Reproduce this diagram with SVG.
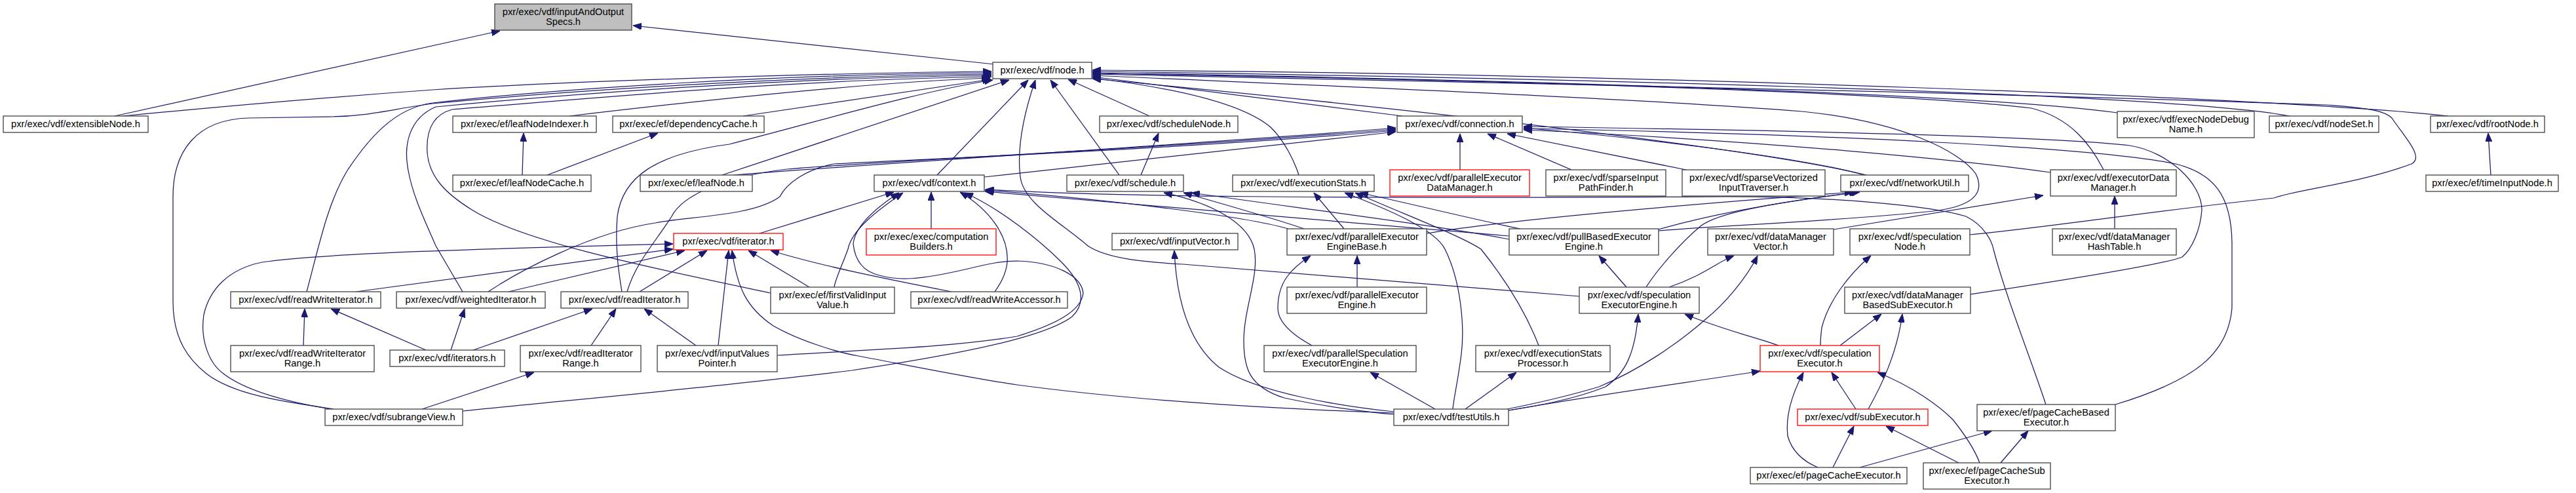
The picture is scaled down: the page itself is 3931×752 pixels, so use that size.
<svg xmlns="http://www.w3.org/2000/svg" width="3931" height="752" viewBox="0 0 3931 752">
<style>
.n rect{fill:#fff;stroke:#404040;stroke-width:1.3}
.n.red rect{stroke:#ff0000}
.n.root rect{fill:#bfbfbf}
.n text{font-family:"Liberation Sans",Arial,sans-serif;font-size:14.7px;text-anchor:middle;fill:#000}
#edges path{fill:none;stroke:#191970;stroke-width:1.25;marker-start:url(#a)}
</style>
<defs>
<marker id="a" viewBox="0 0 13 10" refX="13" refY="5" markerWidth="13" markerHeight="10" markerUnits="userSpaceOnUse" orient="auto-start-reverse">
<path d="M0,0 L13,5 L0,10 z" fill="#191970" stroke="#191970" stroke-width="1"/>
</marker>
</defs>
<rect width="3931" height="752" fill="#fff"/>
<g id="edges">
<path d="M763,47 L175,177"/>
<path d="M966,39 L1517,98"/>
<path d="M1513,109 C1300,111 900,122 660,137 C450,152 280,168 187,177"/>
<path d="M1513,111 C1200,113 850,135 660,157 C600,165 560,215 530,260 C500,310 488,370 468,445"/>
<path d="M1513,113 C1200,116 850,140 660,158 C600,166 560,178 500,178 L380,180 C300,182 264,230 264,300 L264,460 C264,520 290,550 315,570 C360,605 450,615 509,624"/>
<path d="M1513,115 C1200,118 850,145 665,163 C625,180 615,220 623,260 C630,300 650,340 665,375 L706,445"/>
<path d="M1513,117 C1200,122 900,150 690,167 C660,175 650,200 652,233 C655,270 680,295 720,320 C800,370 1000,410 1176,447"/>
<path d="M1511,119 Q1300,126 869,177"/>
<path d="M1512,121 L1134,177"/>
<path d="M1515,122 C1400,140 1250,185 1113,220 C1000,235 950,270 942,330 C938,380 945,420 949,445"/>
<path d="M1540,122 L1102,267"/>
<path d="M1569,122 L1430,267"/>
<path d="M1603,122 L1708,267"/>
<path d="M1630,121 L1754,177"/>
<path d="M1667,117 L2140,177"/>
<path d="M1580,122 C1560,180 1552,230 1557,270 C1562,310 1620,340 1660,375 C1690,395 1750,400 1805,403 L2410,452"/>
<path d="M1667,119 C1800,135 1900,160 1940,195 C1960,215 1975,245 1982,267"/>
<path d="M1667,115 C2000,130 2500,150 2750,170 C2900,185 2990,230 3015,265 C3030,295 3010,315 2950,322 C2800,338 2600,345 2531,352"/>
<path d="M1667,113 C2200,125 3000,140 3550,160 C3620,165 3640,170 3650,180 C3670,210 3700,240 3680,250 C3600,280 3500,290 3470,302 C3300,320 3100,350 3006,358"/>
<path d="M1667,111 C2200,120 3000,140 3231,172"/>
<path d="M1667,109 C2300,118 3300,140 3494,177"/>
<path d="M1667,107 C2500,112 3500,150 3736,177"/>
<path d="M1667,112 C2200,120 2900,140 3100,165 C3160,180 3190,220 3210,259"/>
<path d="M1667,120 C2200,170 2700,230 2848,267"/>
<path d="M2130,195 C1900,215 1400,245 1119,267"/>
<path d="M2130,197 C1800,225 1350,245 1201,258 C1100,270 1040,300 1025,330 C1000,370 970,400 957,445"/>
<path d="M2130,199 C1800,228 1350,245 1273,250 C1230,258 1200,280 1190,300 C1150,330 1050,330 1000,340 C900,355 790,415 745,445"/>
<path d="M2130,201 L1502,270"/>
<path d="M2228,204 L2228,259"/>
<path d="M2270,204 L2398,259"/>
<path d="M2300,204 L2573,259"/>
<path d="M2325,195 C2500,210 2750,240 2845,267"/>
<path d="M2325,198 C2700,215 3000,245 3129,263"/>
<path d="M2325,193 C2800,200 3150,210 3250,222 C3310,232 3360,280 3360,320 C3358,350 3345,380 3330,392 C3300,405 3100,435 3007,449"/>
<path d="M2325,196 C2800,205 3200,225 3320,250 C3380,265 3405,300 3406,370 L3406,470 C3400,540 3350,580 3228,617"/>
<path d="M1776,294 C1850,310 1905,340 1914,380 C1922,420 1898,470 1898,520 C1898,560 1905,590 1960,607 C2030,622 2100,630 2127,632"/>
<path d="M1806,294 C1880,315 1950,335 1990,349"/>
<path d="M1818,294 C2000,320 2200,345 2303,365"/>
<path d="M1364,293 L1159,356"/>
<path d="M1421,293 L1421,349"/>
<path d="M1465,293 C1510,320 1540,360 1537,400 C1535,420 1525,435 1518,445"/>
<path d="M1027,380 L543,445"/>
<path d="M1027,372 C800,378 500,385 400,400 C350,410 320,440 311,480 C305,520 320,555 341,570 C380,600 450,615 505,624"/>
<path d="M1045,382 L776,445"/>
<path d="M1079,382 L976,445"/>
<path d="M1112,382 L1096,527"/>
<path d="M1117,382 C1125,440 1140,470 1180,497 C1220,520 1280,538 1310,543 C1400,560 1500,580 1552,587 C1700,607 1900,622 2127,630"/>
<path d="M1142,382 L1235,438"/>
<path d="M1176,382 C1250,405 1350,425 1452,445"/>
<path d="M1372,294 C1335,318 1305,345 1302,372 C1305,400 1320,415 1342,420 C1370,428 1400,428 1477,410 C1510,402 1530,398 1552,398 C1610,400 1650,420 1653,447 C1650,475 1610,495 1552,513 C1450,530 1330,533 1186,542"/>
<path d="M1472,294 C1530,320 1590,370 1620,400 C1650,430 1660,460 1636,483 C1600,510 1500,535 1300,565 C1100,590 850,612 706,627"/>
<path d="M2052,294 C2120,320 2190,350 2205,380 C2230,430 2235,500 2230,540 C2225,580 2218,610 2217,624"/>
<path d="M2068,294 C2150,330 2230,360 2260,380 C2300,430 2330,480 2348,527"/>
<path d="M2005,294 L2051,349"/>
<path d="M2075,294 C2150,310 2250,335 2320,349"/>
<path d="M2000,390 C1970,410 1950,430 1950,470 C1950,495 1980,515 2002,527"/>
<path d="M2071,390 L2071,438"/>
<path d="M2440,390 L2482,438"/>
<path d="M2646,390 C2620,400 2600,420 2547,438"/>
<path d="M2682,390 C2665,425 2630,465 2605,485 C2560,525 2500,565 2440,590 C2380,608 2330,618 2300,624"/>
<path d="M2500,479 C2495,540 2480,570 2450,590 C2400,610 2340,620 2302,626"/>
<path d="M2571,479 C2620,500 2680,515 2714,527"/>
<path d="M2855,390 C2820,420 2790,460 2780,500 C2778,515 2778,522 2778,527"/>
<path d="M2871,479 L2808,527"/>
<path d="M2903,479 C2895,540 2870,590 2851,624"/>
<path d="M2686,566 C2600,580 2450,600 2302,626"/>
<path d="M2795,568 L2832,624"/>
<path d="M2752,568 C2730,610 2725,640 2728,665 C2735,690 2755,705 2774,713"/>
<path d="M2865,568 C2920,590 2960,620 2980,640 C3000,665 3015,690 3021,706"/>
<path d="M2829,650 L2797,713"/>
<path d="M2878,650 L2989,706"/>
<path d="M3040,657 L2838,713"/>
<path d="M3095,657 L3053,706"/>
<path d="M1504,289 C1700,300 2000,303 2600,300 C2800,298 2950,315 3000,330 C3030,345 3040,370 3042,380 C3060,450 3100,550 3122,617"/>
<path d="M2828,293 C2600,310 2300,335 2177,356"/>
<path d="M2838,293 C2700,310 2620,325 2595,345 C2565,370 2530,410 2512,438"/>
<path d="M3118,298 L2798,350"/>
<path d="M3227,299 L3227,349"/>
<path d="M3797,203 L3801,267"/>
<path d="M799,203 L797,267"/>
<path d="M1004,203 L835,267"/>
<path d="M1768,203 L1741,267"/>
<path d="M465,471 L463,527"/>
<path d="M505,471 L650,534"/>
<path d="M709,471 L688,534"/>
<path d="M904,471 L722,534"/>
<path d="M940,471 L902,527"/>
<path d="M983,471 L1062,527"/>
<path d="M815,568 L644,624"/>
<path d="M2091,568 L2190,624"/>
<path d="M2314,568 L2236,624"/>
<path d="M1792,382 C1795,450 1810,520 1860,560 C1920,600 2050,620 2127,628"/>
<path d="M1503,290 C1700,305 1900,330 1966,349"/>
<path d="M1503,292 C1800,318 2150,345 2303,360"/>
<path d="M1378,294 C1340,320 1300,350 1294,380 C1285,405 1275,425 1273,438"/>
<path d="M2835,293 C2700,310 2600,330 2531,350"/>
</g>
<g id="n1" class="n root"><rect x="755" y="6" width="209" height="40"/><text x="859.5" y="23">pxr/exec/vdf/inputAndOutput</text><text x="859.5" y="37.5">Specs.h</text></g>
<g id="n2" class="n"><rect x="5" y="177" width="221" height="25"/><text x="115.5" y="194">pxr/exec/vdf/extensibleNode.h</text></g>
<g id="n3" class="n"><rect x="1515" y="95" width="151" height="25"/><text x="1590.5" y="112">pxr/exec/vdf/node.h</text></g>
<g id="n4" class="n"><rect x="691" y="177" width="219" height="25"/><text x="800.5" y="194">pxr/exec/ef/leafNodeIndexer.h</text></g>
<g id="n5" class="n"><rect x="935" y="177" width="231" height="25"/><text x="1050.5" y="194">pxr/exec/ef/dependencyCache.h</text></g>
<g id="n6" class="n"><rect x="691" y="267" width="211" height="25"/><text x="796.5" y="284">pxr/exec/ef/leafNodeCache.h</text></g>
<g id="n7" class="n"><rect x="977" y="267" width="171" height="25"/><text x="1062.5" y="284">pxr/exec/ef/leafNode.h</text></g>
<g id="n8" class="n"><rect x="2132" y="177" width="191" height="25"/><text x="2227.5" y="194">pxr/exec/vdf/connection.h</text></g>
<g id="n9" class="n"><rect x="1678" y="177" width="211" height="25"/><text x="1783.5" y="194">pxr/exec/vdf/scheduleNode.h</text></g>
<g id="n10" class="n"><rect x="1334" y="267" width="168" height="25"/><text x="1418" y="284">pxr/exec/vdf/context.h</text></g>
<g id="n11" class="n"><rect x="1628" y="267" width="178" height="25"/><text x="1717" y="284">pxr/exec/vdf/schedule.h</text></g>
<g id="n12" class="n"><rect x="1881" y="267" width="216" height="25"/><text x="1989" y="284">pxr/exec/vdf/executionStats.h</text></g>
<g id="n13" class="n red"><rect x="2121" y="259" width="213" height="40"/><text x="2227.5" y="276">pxr/exec/vdf/parallelExecutor</text><text x="2227.5" y="290.5">DataManager.h</text></g>
<g id="n14" class="n"><rect x="2359" y="259" width="183" height="40"/><text x="2450.5" y="276">pxr/exec/vdf/sparseInput</text><text x="2450.5" y="290.5">PathFinder.h</text></g>
<g id="n15" class="n"><rect x="2567" y="259" width="218" height="40"/><text x="2676" y="276">pxr/exec/vdf/sparseVectorized</text><text x="2676" y="290.5">InputTraverser.h</text></g>
<g id="n16" class="n"><rect x="2809" y="267" width="195" height="25"/><text x="2906.5" y="284">pxr/exec/vdf/networkUtil.h</text></g>
<g id="n17" class="n"><rect x="3129" y="259" width="192" height="40"/><text x="3225" y="276">pxr/exec/vdf/executorData</text><text x="3225" y="290.5">Manager.h</text></g>
<g id="n18" class="n"><rect x="3231" y="170" width="209" height="40"/><text x="3335.5" y="187">pxr/exec/vdf/execNodeDebug</text><text x="3335.5" y="201.5">Name.h</text></g>
<g id="n19" class="n"><rect x="3463" y="177" width="167" height="25"/><text x="3546.5" y="194">pxr/exec/vdf/nodeSet.h</text></g>
<g id="n20" class="n"><rect x="3709" y="177" width="174" height="25"/><text x="3796" y="194">pxr/exec/vdf/rootNode.h</text></g>
<g id="n21" class="n"><rect x="3702" y="267" width="202" height="25"/><text x="3803" y="284">pxr/exec/ef/timeInputNode.h</text></g>
<g id="n22" class="n red"><rect x="1028" y="356" width="167" height="25"/><text x="1111.5" y="373">pxr/exec/vdf/iterator.h</text></g>
<g id="n23" class="n red"><rect x="1322" y="349" width="198" height="40"/><text x="1421" y="366">pxr/exec/exec/computation</text><text x="1421" y="380.5">Builders.h</text></g>
<g id="n24" class="n"><rect x="1697" y="356" width="192" height="25"/><text x="1793" y="373">pxr/exec/vdf/inputVector.h</text></g>
<g id="n25" class="n"><rect x="1964" y="349" width="213" height="40"/><text x="2070.5" y="366">pxr/exec/vdf/parallelExecutor</text><text x="2070.5" y="380.5">EngineBase.h</text></g>
<g id="n26" class="n"><rect x="2303" y="349" width="228" height="40"/><text x="2417" y="366">pxr/exec/vdf/pullBasedExecutor</text><text x="2417" y="380.5">Engine.h</text></g>
<g id="n27" class="n"><rect x="2606" y="349" width="192" height="40"/><text x="2702" y="366">pxr/exec/vdf/dataManager</text><text x="2702" y="380.5">Vector.h</text></g>
<g id="n28" class="n"><rect x="2823" y="349" width="183" height="40"/><text x="2914.5" y="366">pxr/exec/vdf/speculation</text><text x="2914.5" y="380.5">Node.h</text></g>
<g id="n29" class="n"><rect x="3132" y="349" width="189" height="40"/><text x="3226.5" y="366">pxr/exec/vdf/dataManager</text><text x="3226.5" y="380.5">HashTable.h</text></g>
<g id="n30" class="n"><rect x="352" y="445" width="229" height="25"/><text x="466.5" y="462">pxr/exec/vdf/readWriteIterator.h</text></g>
<g id="n31" class="n"><rect x="605" y="445" width="227" height="25"/><text x="718.5" y="462">pxr/exec/vdf/weightedIterator.h</text></g>
<g id="n32" class="n"><rect x="856" y="445" width="194" height="25"/><text x="953" y="462">pxr/exec/vdf/readIterator.h</text></g>
<g id="n33" class="n"><rect x="1176" y="438" width="189" height="40"/><text x="1270.5" y="455">pxr/exec/ef/firstValidInput</text><text x="1270.5" y="469.5">Value.h</text></g>
<g id="n34" class="n"><rect x="1390" y="445" width="239" height="25"/><text x="1509.5" y="462">pxr/exec/vdf/readWriteAccessor.h</text></g>
<g id="n35" class="n"><rect x="1964" y="438" width="213" height="40"/><text x="2070.5" y="455">pxr/exec/vdf/parallelExecutor</text><text x="2070.5" y="469.5">Engine.h</text></g>
<g id="n36" class="n"><rect x="2410" y="438" width="183" height="40"/><text x="2501.5" y="455">pxr/exec/vdf/speculation</text><text x="2501.5" y="469.5">ExecutorEngine.h</text></g>
<g id="n37" class="n"><rect x="2815" y="438" width="192" height="40"/><text x="2911" y="455">pxr/exec/vdf/dataManager</text><text x="2911" y="469.5">BasedSubExecutor.h</text></g>
<g id="n38" class="n"><rect x="352" y="527" width="219" height="40"/><text x="461.5" y="544">pxr/exec/vdf/readWriteIterator</text><text x="461.5" y="558.5">Range.h</text></g>
<g id="n39" class="n"><rect x="595" y="534" width="175" height="25"/><text x="682.5" y="551">pxr/exec/vdf/iterators.h</text></g>
<g id="n40" class="n"><rect x="794" y="527" width="184" height="40"/><text x="886" y="544">pxr/exec/vdf/readIterator</text><text x="886" y="558.5">Range.h</text></g>
<g id="n41" class="n"><rect x="1003" y="527" width="183" height="40"/><text x="1094.5" y="544">pxr/exec/vdf/inputValues</text><text x="1094.5" y="558.5">Pointer.h</text></g>
<g id="n42" class="n"><rect x="1929" y="527" width="232" height="40"/><text x="2045" y="544">pxr/exec/vdf/parallelSpeculation</text><text x="2045" y="558.5">ExecutorEngine.h</text></g>
<g id="n43" class="n"><rect x="2252" y="527" width="205" height="40"/><text x="2354.5" y="544">pxr/exec/vdf/executionStats</text><text x="2354.5" y="558.5">Processor.h</text></g>
<g id="n44" class="n red"><rect x="2686" y="527" width="182" height="40"/><text x="2777" y="544">pxr/exec/vdf/speculation</text><text x="2777" y="558.5">Executor.h</text></g>
<g id="n45" class="n"><rect x="496" y="624" width="210" height="25"/><text x="601" y="641">pxr/exec/vdf/subrangeView.h</text></g>
<g id="n46" class="n"><rect x="2127" y="624" width="175" height="25"/><text x="2214.5" y="641">pxr/exec/vdf/testUtils.h</text></g>
<g id="n47" class="n red"><rect x="2743" y="624" width="199" height="25"/><text x="2842.5" y="641">pxr/exec/vdf/subExecutor.h</text></g>
<g id="n48" class="n"><rect x="3017" y="617" width="211" height="40"/><text x="3122.5" y="634">pxr/exec/ef/pageCacheBased</text><text x="3122.5" y="648.5">Executor.h</text></g>
<g id="n49" class="n"><rect x="2671" y="713" width="239" height="25"/><text x="2790.5" y="730">pxr/exec/ef/pageCacheExecutor.h</text></g>
<g id="n50" class="n"><rect x="2935" y="706" width="194" height="40"/><text x="3032" y="723">pxr/exec/ef/pageCacheSub</text><text x="3032" y="737.5">Executor.h</text></g>
</svg>
